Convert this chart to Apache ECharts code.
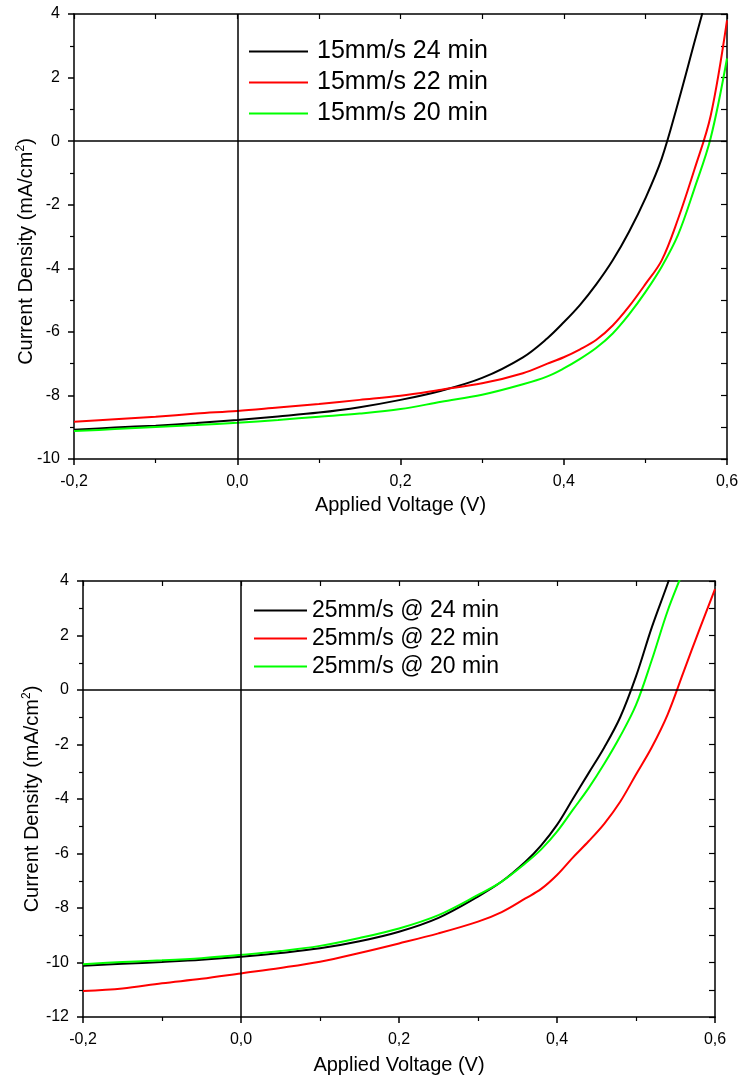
<!DOCTYPE html>
<html>
<head>
<meta charset="utf-8">
<script src="https://cdn.jsdelivr.net/npm/echarts@6/dist/echarts.min.js"></script>
<style>
html,body{margin:0;padding:0;background:#fff;}
#c{width:743px;height:1079px;}
</style>
</head>
<body>
<div id="c"></div>
<script>
// ---- Top chart data (15 mm/s) ----
var topVoltage = [-0.2,-0.15,-0.1,-0.05,0,0.05,0.1,0.15,0.2,0.25,0.3,0.35,0.38,0.4,0.42,0.44,0.46,0.48,0.5,0.52,0.54,0.56,0.58,0.6];
var top24 = [-9.08,-9.01,-8.95,-8.87,-8.77,-8.66,-8.54,-8.37,-8.14,-7.85,-7.45,-6.8,-6.2,-5.7,-5.15,-4.5,-3.75,-2.85,-1.8,-0.55,1.2,3.1,5.0,7.0];
var top22 = [-8.83,-8.75,-8.67,-8.57,-8.49,-8.38,-8.27,-8.14,-8.01,-7.82,-7.62,-7.3,-7.0,-6.8,-6.55,-6.25,-5.8,-5.2,-4.5,-3.75,-2.45,-0.9,0.8,3.8];
var top20 = [-9.12,-9.06,-8.99,-8.93,-8.86,-8.77,-8.67,-8.57,-8.43,-8.2,-7.98,-7.65,-7.4,-7.15,-6.85,-6.5,-6.05,-5.45,-4.75,-3.95,-2.95,-1.5,0.1,2.6];
var topNames = ['15mm/s 24 min','15mm/s 22 min','15mm/s 20 min'];

// ---- Bottom chart data (25 mm/s) ----
var botVoltage = [-0.2,-0.15,-0.1,-0.05,0,0.05,0.1,0.15,0.2,0.25,0.3,0.33,0.36,0.38,0.4,0.42,0.44,0.46,0.48,0.5,0.52,0.54,0.56,0.58,0.6];
var bot24 = [-10.12,-10.05,-9.98,-9.9,-9.79,-9.65,-9.48,-9.22,-8.87,-8.36,-7.58,-7.03,-6.3,-5.7,-4.95,-4.0,-3.05,-2.1,-1.0,0.5,2.3,3.9,5.6,7.3,9.0];
var bot22 = [-11.05,-10.95,-10.76,-10.6,-10.4,-10.2,-9.97,-9.65,-9.3,-8.93,-8.5,-8.15,-7.65,-7.3,-6.79,-6.15,-5.55,-4.9,-4.1,-3.1,-2.1,-0.9,0.65,2.2,3.7];
var bot20 = [-10.06,-9.98,-9.92,-9.84,-9.72,-9.58,-9.39,-9.1,-8.75,-8.26,-7.52,-7.03,-6.36,-5.85,-5.2,-4.4,-3.6,-2.7,-1.7,-0.55,1.1,2.9,4.4,6.0,7.6];
var botNames = ['25mm/s @ 24 min','25mm/s @ 22 min','25mm/s @ 20 min'];

var colors = ['#000000','#ff0000','#00ff00'];
var FONT = 'Liberation Sans, Arial, sans-serif';

function pairs(xs, ys){ return xs.map(function(x,i){ return [x, ys[i]]; }); }
function fmtX(v){ return v.toFixed(1).replace('.', ','); }

var grids = [
  {left:74, top:14, width:653, height:445, outerBoundsMode:'none', containLabel:false},
  {left:83, top:581, width:632, height:436, outerBoundsMode:'none', containLabel:false}
];

function xAxes(gi, nameGap){
  return [{
    type:'value', gridIndex:gi, min:-0.2, max:0.6, interval:0.2, position:'bottom',
    name:'Applied Voltage (V)', nameLocation:'middle', nameGap:nameGap, nameMoveOverlap:false,
    nameTextStyle:{fontFamily:FONT, fontSize:20, color:'#000'},
    axisLine:{show:true, onZero:false, lineStyle:{color:'#000', width:1.5}},
    axisTick:{show:true, inside:false, length:6, lineStyle:{color:'#000', width:1.5}},
    minorTick:{show:true, splitNumber:2, length:4, lineStyle:{color:'#000', width:1.2}},
    axisLabel:{fontFamily:FONT, fontSize:16, color:'#000', margin:15, formatter:fmtX},
    splitLine:{show:false}
  },{
    type:'value', gridIndex:gi, min:-0.2, max:0.6, interval:0.1, position:'top',
    axisLine:{show:true, onZero:false, lineStyle:{color:'#000', width:1.5}},
    axisTick:{show:true, inside:true, length:5, lineStyle:{color:'#000', width:1.2}},
    axisLabel:{show:false}, splitLine:{show:false}
  }];
}
function yAxes(gi, min, nameGap, namePad){
  return [{
    type:'value', gridIndex:gi, min:min, max:4, interval:2, position:'left',
    name:'{a|Current Density (mA/cm}{s|2}{a|)}', nameLocation:'middle', nameGap:nameGap, nameRotate:90,
    nameMoveOverlap:false,
    nameTextStyle:{padding:namePad, rich:{
      a:{fontFamily:FONT, fontSize:20, color:'#000'},
      s:{fontFamily:FONT, fontSize:12, color:'#000', verticalAlign:'top', padding:[0,0,10,0]}
    }},
    axisLine:{show:true, onZero:false, lineStyle:{color:'#000', width:1.5}},
    axisTick:{show:true, inside:false, length:6, lineStyle:{color:'#000', width:1.5}},
    minorTick:{show:true, splitNumber:2, length:4, lineStyle:{color:'#000', width:1.2}},
    axisLabel:{fontFamily:FONT, fontSize:16, color:'#000', margin:14},
    splitLine:{show:false}
  },{
    type:'value', gridIndex:gi, min:min, max:4, interval:1, position:'right',
    axisLine:{show:true, onZero:false, lineStyle:{color:'#000', width:1.5}},
    axisTick:{show:true, inside:true, length:6, lineStyle:{color:'#000', width:1.2}},
    axisLabel:{show:false}, splitLine:{show:false}
  }];
}

function mkSeries(name, xs, ys, color, xi, yi, withMark){
  var s = {
    name:name, type:'line', xAxisIndex:xi, yAxisIndex:yi, data:pairs(xs, ys),
    showSymbol:false, symbol:'none', smooth:0.35, clip:true,
    lineStyle:{color:color, width:2}, itemStyle:{color:color}, z:3
  };
  if (withMark) {
    s.markLine = {
      silent:true, symbol:'none', label:{show:false}, animation:false,
      lineStyle:{color:'#000', width:1.5, type:'solid'},
      data:[{xAxis:0},{yAxis:0}]
    };
  }
  return s;
}

var topY = [top24, top22, top20];
var botY = [bot24, bot22, bot20];
var series = [];
for (var i=0;i<3;i++) series.push(mkSeries(topNames[i], topVoltage, topY[i], colors[i], 0, 0, i===0));
for (var j=0;j<3;j++) series.push(mkSeries(botNames[j], botVoltage, botY[j], colors[j], 2, 2, j===0));

var legendCommon = {
  orient:'vertical', icon:'rect', itemHeight:2, padding:0,
  selectedMode:false
};

var option = {
  animation:false,
  backgroundColor:'#fff',
  grid:grids,
  xAxis:[].concat(xAxes(0, 36), xAxes(1, 38)),
  yAxis:[].concat(yAxes(0, -10, 37, [0,30,0,0]), yAxes(1, -12, 40, [0,0,0,0])),
  legend:[
    Object.assign({}, legendCommon, {
      data:topNames.map(function(n,k){return {name:n, itemStyle:{color:colors[k]}};}),
      left:249, top:39, itemWidth:59, itemGap:6,
      textStyle:{fontFamily:FONT, color:'#000', fontSize:25, lineHeight:25, padding:[0,0,0,4]}
    }),
    Object.assign({}, legendCommon, {
      data:botNames.map(function(n,k){return {name:n, itemStyle:{color:colors[k]}};}),
      left:254, top:599, itemWidth:53, itemGap:5,
      textStyle:{fontFamily:FONT, color:'#000', fontSize:23, lineHeight:23, padding:[0,0,0,0]}
    })
  ],
  series:series
};

var chart = echarts.init(document.getElementById('c'), null, {renderer:'canvas'});
chart.setOption(option);
</script>
</body>
</html>
